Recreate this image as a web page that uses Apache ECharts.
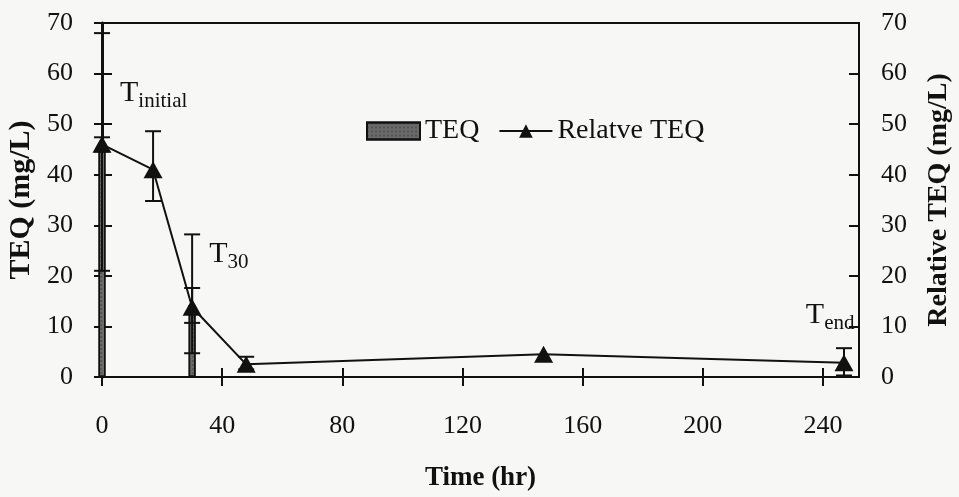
<!DOCTYPE html>
<html>
<head>
<meta charset="utf-8">
<script src="https://cdn.jsdelivr.net/npm/echarts@6/dist/echarts.min.js"></script>
<style>html,body{margin:0;padding:0;background:#f7f7f5}#c{width:959px;height:497px}</style>
</head>
<body>
<div id="c"></div>
<script>
// ---- data ----
var teqTime = [0, 30];
var teqValue = [46, 14.2];
var teqLow = [21, 10.7];
var teqHigh = [68, 17.6];

var relTime = [0, 17, 30, 48, 147, 247];
var relValue = [46, 41, 13.8, 2.5, 4.5, 2.8];
var relLow = [44.6, 34.8, 4.7, 1.5, null, 0.3];
var relHigh = [47.4, 48.6, 28.2, 4, null, 5.7];

var annoX = [6, 35.7, 234.3];
var annoY = [53.2, 21.3, 9.2];
var annoMain = ['T', 'T', 'T'];
var annoSub = ['initial', '30', 'end'];

var xTicks = [0, 40, 80, 120, 160, 200, 240];
var yTicks = [0, 10, 20, 30, 40, 50, 60, 70];

// ---- chart ----
var FONT = '"Liberation Serif", "DejaVu Serif", serif';
var chart = echarts.init(document.getElementById('c'));

function errRender(params, api) {
  var x = api.value(0), lo = api.value(1), hi = api.value(2);
  if (lo == null || hi == null || isNaN(lo) || isNaN(hi)) return;
  var p1 = api.coord([x, lo]), p2 = api.coord([x, hi]);
  var w = 8;
  var st = {stroke: '#111', lineWidth: 2};
  return {type: 'group', children: [
    {type: 'line', shape: {x1: p1[0], y1: p1[1], x2: p2[0], y2: p2[1]}, style: st},
    {type: 'line', shape: {x1: p1[0] - w, y1: p1[1], x2: p1[0] + w, y2: p1[1]}, style: st},
    {type: 'line', shape: {x1: p2[0] - w, y1: p2[1], x2: p2[0] + w, y2: p2[1]}, style: st}
  ]};
}

var barData = teqTime.map(function (t, i) { return [t, teqValue[i]]; });
var lineData = relTime.map(function (t, i) { return [t, relValue[i]]; });
var teqErr = teqTime.map(function (t, i) { return [t, teqLow[i], teqHigh[i]]; });
var relErr = relTime.map(function (t, i) { return [t, relLow[i], relHigh[i]]; });
var annoData = annoX.map(function (x, i) {
  return {value: [x, annoY[i]], label: {formatter: '{t|' + annoMain[i] + '}{s|' + annoSub[i] + '}'}};
});

var tickLabel = {fontFamily: FONT, fontSize: 26, color: '#111'};
var axisLineStyle = {color: '#111', width: 2};

chart.setOption({
  backgroundColor: '#f7f7f5',
  animation: false,
  grid: {left: 102, right: 100, top: 23, bottom: 120, outerBoundsMode: 'none', containLabel: false,
         show: true, borderColor: '#111', borderWidth: 2, backgroundColor: 'transparent'},
  legend: {
    data: [{name: 'TEQ', icon: 'rect'}, {name: 'Relatve TEQ'}],
    left: 361, top: 112,
    itemWidth: 53, itemHeight: 17, itemGap: 19,
    textStyle: {fontFamily: FONT, fontSize: 28, color: '#111'}
  },
  xAxis: [{
    type: 'value', min: 0, max: 252, interval: 40, position: 'bottom',
    name: 'Time (hr)', nameLocation: 'middle', nameGap: 88,
    nameTextStyle: {fontFamily: FONT, fontSize: 27, fontWeight: 'bold', color: '#111'},
    axisLine: {show: true, lineStyle: axisLineStyle},
    axisTick: {show: true, inside: false, length: 9, lineStyle: {color: '#111', width: 2}},
    axisLabel: Object.assign({margin: 36, showMaxLabel: false, formatter: function (v) { return xTicks.indexOf(v) >= 0 ? v : ''; }}, tickLabel),
    splitLine: {show: false}
  }, {
    type: 'value', min: 0, max: 252, interval: 40, position: 'bottom',
    axisLine: {show: false},
    axisTick: {show: true, inside: true, length: 9, lineStyle: {color: '#111', width: 2}},
    axisLabel: {show: false}, splitLine: {show: false}
  }],
  yAxis: [{
    type: 'value', min: 0, max: 70, interval: 10, position: 'left',
    name: 'TEQ (mg/L)', nameLocation: 'middle', nameGap: 65,
    nameTextStyle: {fontFamily: FONT, fontSize: 30, fontWeight: 'bold', color: '#111'},
    axisLine: {show: true, lineStyle: {color: '#111', width: 3}},
    axisTick: {show: true, inside: false, length: 8, lineStyle: {color: '#111', width: 2}},
    axisLabel: Object.assign({margin: 29, formatter: function (v) { return yTicks.indexOf(v) >= 0 ? v : ''; }}, tickLabel),
    splitLine: {show: false}
  }, {
    type: 'value', min: 0, max: 70, interval: 10, position: 'right',
    name: 'Relative TEQ (mg/L)', nameLocation: 'middle', nameGap: 66,
    nameTextStyle: {fontFamily: FONT, fontSize: 28, fontWeight: 'bold', color: '#111'},
    axisLine: {show: true, lineStyle: axisLineStyle},
    axisTick: {show: true, inside: false, length: 10, lineStyle: {color: '#111', width: 2}},
    axisLabel: Object.assign({margin: 22, formatter: function (v) { return yTicks.indexOf(v) >= 0 ? v : ''; }}, tickLabel),
    splitLine: {show: false}
  }, {
    type: 'value', min: 0, max: 70, interval: 10, position: 'left',
    axisLine: {show: false}, axisLabel: {show: false}, splitLine: {show: false},
    axisTick: {show: true, inside: true, length: 10, lineStyle: {color: '#111', width: 2}}
  }, {
    type: 'value', min: 0, max: 70, interval: 10, position: 'right',
    axisLine: {show: false}, axisLabel: {show: false}, splitLine: {show: false},
    axisTick: {show: true, inside: true, length: 10, lineStyle: {color: '#111', width: 2}}
  }],
  series: [{
    name: 'TEQ', type: 'bar', xAxisIndex: 0, yAxisIndex: 0,
    barWidth: 7, data: barData,
    itemStyle: {
      color: '#6a6a6a', borderColor: '#111', borderWidth: 1.5, borderRadius: 0,
      decal: {symbol: 'rect', symbolSize: 0.6, color: 'rgba(0,0,0,0.6)', dashArrayX: [2, 2], dashArrayY: [2, 2], rotation: 0}
    }
  }, {
    name: 'TEQ err', type: 'custom', xAxisIndex: 0, yAxisIndex: 0,
    renderItem: errRender, data: teqErr, silent: true, z: 3
  }, {
    name: 'Relatve TEQ err', type: 'custom', xAxisIndex: 0, yAxisIndex: 1,
    renderItem: errRender, data: relErr, silent: true, z: 3
  }, {
    name: 'Relatve TEQ', type: 'line', xAxisIndex: 0, yAxisIndex: 1,
    data: lineData, symbol: 'triangle', symbolSize: [19, 17], showAllSymbol: true,
    lineStyle: {color: '#111', width: 2}, itemStyle: {color: '#111'}, z: 4
  }, {
    name: 'anno', type: 'scatter', xAxisIndex: 0, yAxisIndex: 0,
    data: annoData, symbolSize: 0, silent: true,
    itemStyle: {opacity: 1, color: '#111'},
    label: {
      show: true, position: [0, 0], align: 'left', verticalAlign: 'bottom', color: '#111', opacity: 1,
      rich: {
        t: {fontFamily: FONT, fontSize: 30, color: '#111', verticalAlign: 'bottom'},
        s: {fontFamily: FONT, fontSize: 21, color: '#111', verticalAlign: 'bottom', padding: [0, 0, -4, 0]}
      }
    }
  }]
});
</script>
</body>
</html>
